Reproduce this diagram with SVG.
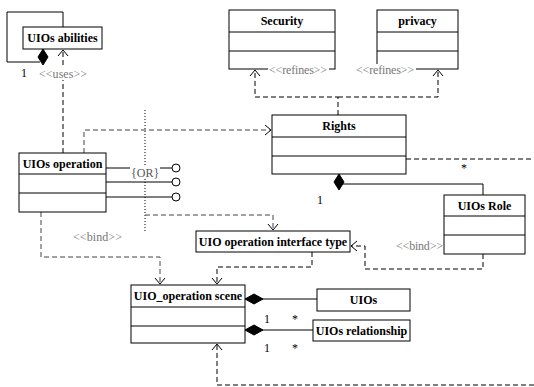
<svg xmlns="http://www.w3.org/2000/svg" width="534" height="387" viewBox="0 0 534 387">
<style>
.box{fill:#fff;stroke:#000;stroke-width:1}
.ln{fill:none;stroke:#000;stroke-width:1}
.ds{fill:none;stroke:#000;stroke-width:1;stroke-dasharray:5,3}
.dg{fill:none;stroke:#444;stroke-width:1;stroke-dasharray:5,3}
.dot{fill:none;stroke:#000;stroke-width:1;stroke-dasharray:1,2}
.t{font-family:'Liberation Serif','DejaVu Serif',serif;font-size:12px;font-weight:bold;fill:#000;text-anchor:middle}
.st{font-family:'Liberation Serif','DejaVu Serif',serif;font-size:12px;fill:#777}
.m{font-family:'Liberation Serif','DejaVu Serif',serif;font-size:12px}
.dia{fill:#000;stroke:#000}
.lol{fill:#fff;stroke:#000;stroke-width:1}
</style>
<defs>
<marker id="open" viewBox="-8 -6 10 12" markerWidth="10" markerHeight="12" refX="0" refY="0" orient="auto" markerUnits="userSpaceOnUse">
<path d="M-6,-5 L0,0 L-6,5" fill="none" stroke="#000" stroke-width="1"/>
</marker>
</defs>

<g id="connectors">
<polyline class="ln" points="40,62 7,62 7,12 63,12 63,27"/>
<polygon class="dia" points="43,49 48,57 43,65 38,57"/>
<line class="ds" x1="63" y1="153" x2="63" y2="50" marker-end="url(#open)"/>
<polyline class="dg" points="84,153 84,130 271,130" marker-end="url(#open)"/>
<polyline class="ds" points="338,115 338,97 255,97 255,70" marker-end="url(#open)"/>
<polyline class="ds" points="338,97 438,97 438,70" marker-end="url(#open)"/>
<polyline class="ds" points="406,159 534,159"/>
<polyline class="ln" points="339,184 483,184 483,195"/>
<polygon class="dia" points="339,174 344,182 339,190 334,182"/>
<line class="dot" x1="145" y1="110" x2="145" y2="233"/>
<polyline class="dg" points="145,215 273,215 273,230" marker-end="url(#open)"/>
<line class="ln" x1="106" y1="168" x2="172" y2="168"/>
<line class="ln" x1="106" y1="182" x2="172" y2="182"/>
<line class="ln" x1="106" y1="197" x2="172" y2="197"/>
<circle class="lol" cx="176" cy="168" r="4"/>
<circle class="lol" cx="176" cy="182" r="4"/>
<circle class="lol" cx="176" cy="197" r="4"/>
<polyline class="dg" points="41,212 41,257 160,257 160,284" marker-end="url(#open)"/>
<polyline class="ds" points="312,252 312,267 217,267 217,284" marker-end="url(#open)"/>
<polyline class="ds" points="483,254 483,269 365,269 365,246 351,246" marker-end="url(#open)"/>
<line class="ln" x1="262" y1="299" x2="317" y2="299"/>
<polygon class="dia" points="245,299 254,294 263,299 254,304"/>
<line class="ln" x1="262" y1="330" x2="313" y2="330"/>
<polygon class="dia" points="245,330 254,325 263,330 254,335"/>
<polyline class="ds" points="534,385 217,385 217,344" marker-end="url(#open)"/>
</g>

<g id="uios-abilities">
<rect class="box" x="23" y="27" width="79" height="22"/>
<text class="t" x="62.5" y="42">UIOs abilities</text>
</g>

<g id="security">
<rect class="box" x="229" y="10" width="106" height="59"/>
<line class="ln" x1="229" y1="32" x2="335" y2="32"/>
<line class="ln" x1="229" y1="51" x2="335" y2="51"/>
<text class="t" x="282" y="25">Security</text>
</g>

<g id="privacy">
<rect class="box" x="377" y="10" width="81" height="59"/>
<line class="ln" x1="377" y1="32" x2="458" y2="32"/>
<line class="ln" x1="377" y1="51" x2="458" y2="51"/>
<text class="t" x="417.5" y="25">privacy</text>
</g>

<g id="rights">
<rect class="box" x="272" y="115" width="134" height="59"/>
<line class="ln" x1="272" y1="137" x2="406" y2="137"/>
<line class="ln" x1="272" y1="156" x2="406" y2="156"/>
<text class="t" x="339" y="130">Rights</text>
</g>

<g id="uios-operation">
<rect class="box" x="19" y="153" width="87" height="59"/>
<line class="ln" x1="19" y1="174" x2="106" y2="174"/>
<line class="ln" x1="19" y1="193" x2="106" y2="193"/>
<text class="t" x="62.5" y="168">UIOs operation</text>
</g>

<g id="uios-role">
<rect class="box" x="444" y="195" width="81" height="59"/>
<line class="ln" x1="444" y1="216" x2="525" y2="216"/>
<line class="ln" x1="444" y1="235" x2="525" y2="235"/>
<text class="t" x="484.5" y="210">UIOs Role</text>
</g>

<g id="uio-operation-interface-type">
<rect class="box" x="196" y="231" width="154" height="21"/>
<text class="t" x="273" y="246">UIO operation interface type</text>
</g>

<g id="uio-operation-scene">
<rect class="box" x="131" y="285" width="114" height="58"/>
<line class="ln" x1="131" y1="307" x2="245" y2="307"/>
<line class="ln" x1="131" y1="326" x2="245" y2="326"/>
<text class="t" x="188" y="300">UIO_operation scene</text>
</g>

<g id="uios">
<rect class="box" x="317" y="289" width="93" height="22"/>
<text class="t" x="363.5" y="304">UIOs</text>
</g>

<g id="uios-relationship">
<rect class="box" x="313" y="320" width="97" height="21"/>
<text class="t" x="361.5" y="335">UIOs relationship</text>
</g>

<g id="labels">
<text class="m" x="21" y="77" fill="#000000">1</text>
<rect x="39" y="68" width="48" height="12" fill="#fff"/>
<text class="st" x="39" y="78" textLength="48">&lt;&lt;uses&gt;&gt;</text>
<rect x="268" y="64" width="61" height="12" fill="#fff"/>
<text class="st" x="269" y="74" textLength="58">&lt;&lt;refines&gt;&gt;</text>
<rect x="355" y="64" width="61" height="12" fill="#fff"/>
<text class="st" x="356" y="74" textLength="58">&lt;&lt;refines&gt;&gt;</text>
<rect x="130" y="166" width="30" height="13" fill="#fff"/>
<text class="st" x="131" y="177" style="fill:#555">{OR}</text>
<text class="m" x="461" y="172" fill="#000000">*</text>
<text class="m" x="317" y="204" fill="#000000">1</text>
<text class="st" x="73" y="241" textLength="49">&lt;&lt;bind&gt;&gt;</text>
<text class="st" x="396" y="250" textLength="47">&lt;&lt;bind&gt;&gt;</text>
<text class="m" x="264" y="323" fill="#000000">1</text>
<text class="m" x="292" y="323" fill="#000000">*</text>
<text class="m" x="264" y="352" fill="#000000">1</text>
<text class="m" x="292" y="352" fill="#000000">*</text>
</g>
</svg>
